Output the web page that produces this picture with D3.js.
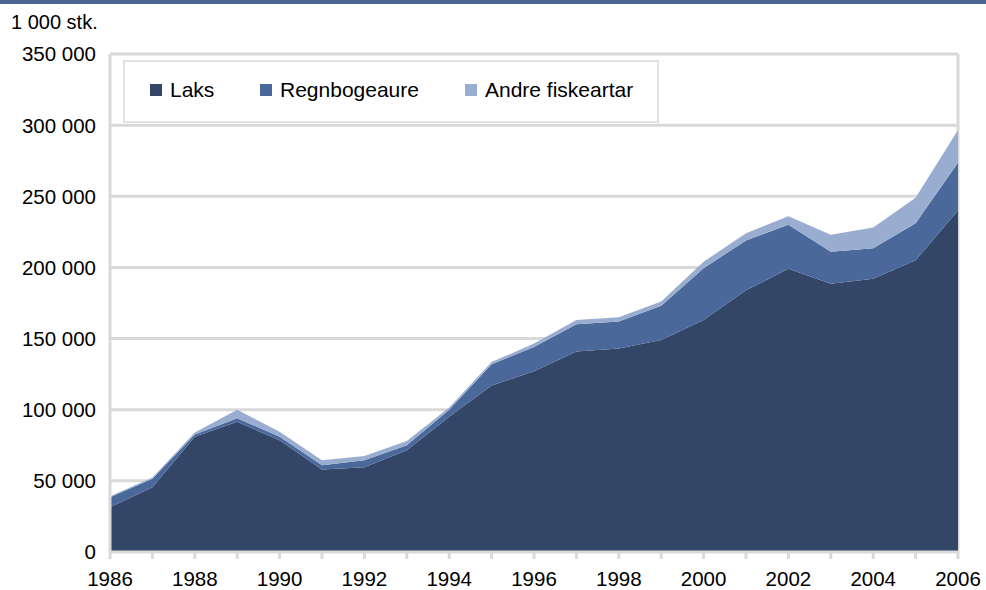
<!DOCTYPE html>
<html>
<head>
<meta charset="utf-8">
<script src="https://cdn.jsdelivr.net/npm/d3@7"></script>
<style>
  body { margin: 0; background: #fff; }
  text { font-family: "Liberation Sans", Arial, sans-serif; fill: #000; }
</style>
</head>
<body>
<div id="chart"></div>
<script>
// Data (1 000 stk.)
const years = d3.range(1986, 2007);
const laks  = [31500, 45500, 81000, 91500, 78500, 58000, 59500, 71500, 95000, 117000, 127000,
               141000, 143000, 149000, 163000, 184000, 199000, 188500, 192000, 205000, 240000];
const regn  = [7000, 6000, 1500, 2500, 2500, 3000, 5000, 3500, 5000, 15000, 17000,
               19000, 19000, 24000, 36500, 35000, 31000, 22500, 21500, 26000, 33500];
const andre = [600, 800, 1500, 6000, 3500, 3500, 3000, 3000, 1500, 1500, 2500,
               3000, 3000, 3000, 4500, 5000, 6000, 12000, 14500, 18000, 23000];
const seriesNames = ["Laks", "Regnbogeaure", "Andre fiskeartar"];
const yTicks = [0, 50000, 100000, 150000, 200000, 250000, 300000, 350000];
const xTicks = [1986, 1988, 1990, 1992, 1994, 1996, 1998, 2000, 2002, 2004, 2006];

const width = 986, height = 590;
const margin = { left: 110, right: 28, top: 54, bottom: 38 };

const colors = d3.scaleOrdinal()
    .domain(seriesNames)
    .range(["#344668", "#4a6899", "#99add0"]);

const svg = d3.select("#chart").append("svg")
    .attr("width", width)
    .attr("height", height);

// top rule
svg.append("rect")
    .attr("x", 0).attr("y", 0)
    .attr("width", width).attr("height", 4)
    .style("fill", "#4a6491");

const x = d3.scaleLinear()
    .domain([1986, 2006])
    .range([margin.left, width - margin.right]);

const y = d3.scaleLinear()
    .domain([0, 350000])
    .range([height - margin.bottom, margin.top]);

const fmt = v => d3.format(",")(v).replace(/,/g, " ");

// gridlines
svg.append("g")
    .selectAll("line")
    .data(yTicks.filter(d => d > 0))
    .enter().append("line")
    .attr("x1", margin.left).attr("x2", width - margin.right)
    .attr("y1", d => y(d)).attr("y2", d => y(d))
    .style("stroke", "#d9d9d9")
    .style("stroke-width", 3);

// right border
svg.append("line")
    .attr("x1", x(2006)).attr("x2", x(2006))
    .attr("y1", y(350000)).attr("y2", y(0))
    .style("stroke", "#d9d9d9")
    .style("stroke-width", 3);

// stacked areas
const table = years.map((yr, i) => ({
    year: yr, "Laks": laks[i], "Regnbogeaure": regn[i], "Andre fiskeartar": andre[i]
}));
const stacked = d3.stack().keys(seriesNames)(table);

const area = d3.area()
    .x(d => x(d.data.year))
    .y0(d => y(d[0]))
    .y1(d => y(d[1]));

svg.append("g")
    .selectAll("path")
    .data(stacked)
    .enter().append("path")
    .attr("d", area)
    .style("fill", d => colors(d.key));

// axes lines
svg.append("line")
    .attr("x1", margin.left).attr("x2", margin.left)
    .attr("y1", y(350000)).attr("y2", y(0))
    .style("stroke", "#d9d9d9")
    .style("stroke-width", 3);

svg.append("line")
    .attr("x1", margin.left - 1).attr("x2", width - margin.right + 1)
    .attr("y1", y(0)).attr("y2", y(0))
    .style("stroke", "#d9d9d9")
    .style("stroke-width", 3);

// x ticks (every year)
svg.append("g")
    .selectAll("line")
    .data(years)
    .enter().append("line")
    .attr("x1", d => x(d)).attr("x2", d => x(d))
    .attr("y1", y(0)).attr("y2", y(0) + 7)
    .style("stroke", "#d9d9d9")
    .style("stroke-width", 3);

// y labels
svg.append("g")
    .selectAll("text")
    .data(yTicks)
    .enter().append("text")
    .attr("x", 96)
    .attr("y", d => y(d))
    .attr("dy", "0.36em")
    .attr("text-anchor", "end")
    .style("font-size", "20.5px")
    .text(fmt);

// x labels
svg.append("g")
    .selectAll("text")
    .data(xTicks)
    .enter().append("text")
    .attr("x", d => x(d))
    .attr("y", 586)
    .attr("text-anchor", "middle")
    .style("font-size", "20.5px")
    .text(d => d);

// unit label
svg.append("text")
    .attr("x", 11).attr("y", 29)
    .style("font-size", "20px")
    .text("1 000 stk.");

// legend
const legend = svg.append("g").attr("class", "legend");
legend.append("rect")
    .attr("x", 124).attr("y", 61)
    .attr("width", 534).attr("height", 61)
    .style("fill", "#fff")
    .style("stroke", "#d9d9d9")
    .style("stroke-width", 1.5);

const legendX = [150, 260, 465];
seriesNames.forEach((name, i) => {
    legend.append("rect")
        .attr("x", legendX[i]).attr("y", 84)
        .attr("width", 12).attr("height", 12)
        .style("fill", colors(name));
    legend.append("text")
        .attr("x", legendX[i] + 20).attr("y", 97)
        .style("font-size", "21px")
        .text(name);
});
</script>
</body>
</html>
